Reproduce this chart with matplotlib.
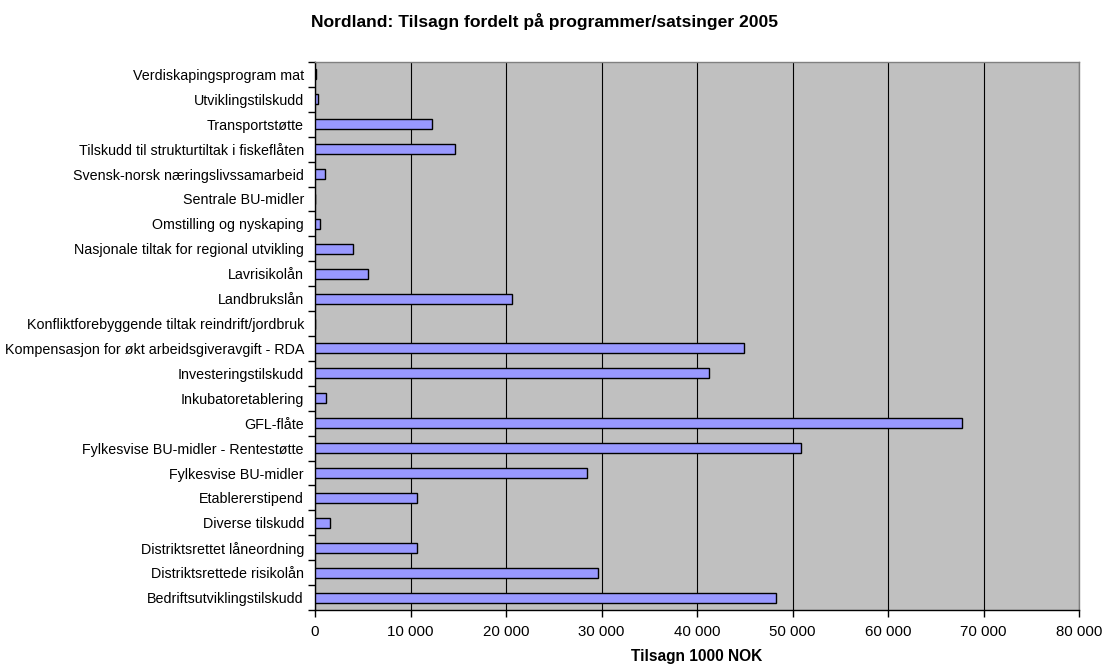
import matplotlib
matplotlib.use("Agg")
import matplotlib.pyplot as plt
from matplotlib.ticker import FuncFormatter, FixedLocator

plt.rcParams['font.family'] = ['Liberation Sans', 'DejaVu Sans']

# categories from bottom to top
categories = [
    "Bedriftsutviklingstilskudd",
    "Distriktsrettede risikolån",
    "Distriktsrettet låneordning",
    "Diverse tilskudd",
    "Etablererstipend",
    "Fylkesvise BU-midler",
    "Fylkesvise BU-midler - Rentestøtte",
    "GFL-flåte",
    "Inkubatoretablering",
    "Investeringstilskudd",
    "Kompensasjon for økt arbeidsgiveravgift - RDA",
    "Konfliktforebyggende tiltak reindrift/jordbruk",
    "Landbrukslån",
    "Lavrisikolån",
    "Nasjonale tiltak for regional utvikling",
    "Omstilling og nyskaping",
    "Sentrale BU-midler",
    "Svensk-norsk næringslivssamarbeid",
    "Tilskudd til strukturtiltak i fiskeflåten",
    "Transportstøtte",
    "Utviklingstilskudd",
    "Verdiskapingsprogram mat",
]
values = [
    48300, 29600, 10700, 1600, 10650, 28500, 50850, 67750, 1200, 41300,
    44900, 0, 20600, 5500, 4000, 560, 0, 1080, 14650, 12300, 350, 150,
]
xticks = [0, 10000, 20000, 30000, 40000, 50000, 60000, 70000, 80000]

fig = plt.figure(figsize=(11.05, 6.67), dpi=100)
ax = fig.add_axes([315/1105, 1 - 610/667, (1079-315)/1105, (610-62)/667])
ax.set_facecolor('#C0C0C0')

ypos = list(range(len(categories)))
ax.barh(ypos, values, height=0.4, color='#9999FF', edgecolor='black', linewidth=1.0, zorder=3)

ax.set_xlim(0, 80000)
ax.set_ylim(-0.5, len(categories) - 0.5)
ax.xaxis.set_major_locator(FixedLocator(xticks))
ax.xaxis.set_major_formatter(FuncFormatter(lambda v, p: f"{int(v):,}".replace(",", " ")))
ax.grid(axis='x', color='black', linewidth=0.8, zorder=1)
ax.set_axisbelow(True)

ax.set_yticks(ypos)
ax.set_yticklabels(categories, fontsize=10.3)
ax.tick_params(axis='y', which='major', length=0, pad=8)
ax.set_yticks([i - 0.5 for i in range(len(categories) + 1)], minor=True)
ax.tick_params(axis='y', which='minor', length=5, width=1, color='black', direction='out')
ax.tick_params(axis='x', which='major', length=5, width=1, color='black', direction='out', labelsize=10.8, pad=6)

for s in ['top', 'right']:
    ax.spines[s].set_color('#808080')
    ax.spines[s].set_linewidth(1)
for s in ['left', 'bottom']:
    ax.spines[s].set_color('black')
    ax.spines[s].set_linewidth(1)

ax.set_xlabel("Tilsagn 1000 NOK", fontsize=11.2, fontweight='bold', labelpad=7)
fig.text(544.5/1105, 1 - 21/667, "Nordland: Tilsagn fordelt på programmer/satsinger 2005",
         ha='center', va='center', fontsize=12.6, fontweight='bold')

fig.savefig("out.png", dpi=100, facecolor='white')
